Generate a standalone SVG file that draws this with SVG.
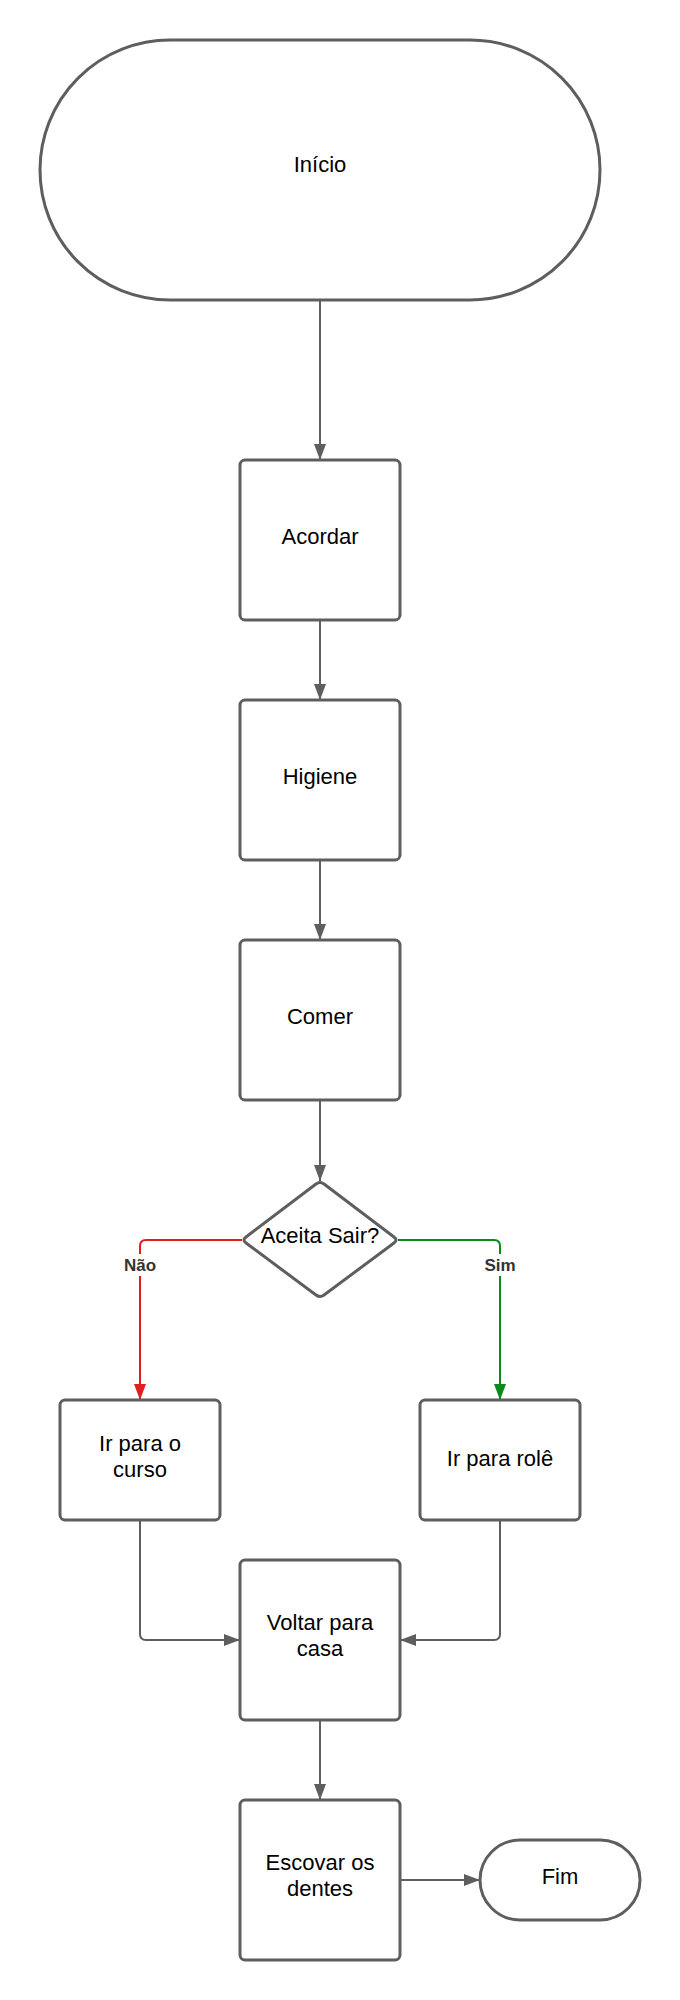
<svg xmlns="http://www.w3.org/2000/svg" width="680" height="2000" viewBox="0 0 680 2000">
<style>
.n{fill:#ffffff;stroke:#5e5e5e;stroke-width:3;stroke-linejoin:round}
.t{font-family:"Liberation Sans",Arial,sans-serif;font-size:22px;fill:#000000;text-anchor:middle}
.c{fill:none;stroke:#5e5e5e;stroke-width:2}
.lb{font-family:"Liberation Sans",Arial,sans-serif;font-size:17px;font-weight:bold;fill:#333333;text-anchor:middle}
</style>
<defs>
<marker id="ag" viewBox="0 0 16 12" refX="16" refY="6" markerWidth="16" markerHeight="12" markerUnits="userSpaceOnUse" orient="auto"><path d="M0,0 L16,6 L0,12 z" fill="#5e5e5e"/></marker>
<marker id="ar" viewBox="0 0 16 12" refX="16" refY="6" markerWidth="16" markerHeight="12" markerUnits="userSpaceOnUse" orient="auto"><path d="M0,0 L16,6 L0,12 z" fill="#e01e1e"/></marker>
<marker id="av" viewBox="0 0 16 12" refX="16" refY="6" markerWidth="16" markerHeight="12" markerUnits="userSpaceOnUse" orient="auto"><path d="M0,0 L16,6 L0,12 z" fill="#0a8a18"/></marker>
</defs>
<rect width="680" height="2000" fill="#ffffff"/>
<g id="connectors">
<path class="c" d="M320,300 V460" marker-end="url(#ag)"/>
<path class="c" d="M320,620 V700" marker-end="url(#ag)"/>
<path class="c" d="M320,860 V940" marker-end="url(#ag)"/>
<path class="c" d="M320,1100 V1181" marker-end="url(#ag)"/>
<path class="c" d="M242,1240 H146 Q140,1240 140,1246 V1400" style="stroke:#e01e1e" marker-end="url(#ar)"/>
<path class="c" d="M398,1240 H494 Q500,1240 500,1246 V1400" style="stroke:#0a8a18" marker-end="url(#av)"/>
<rect x="120" y="1254" width="40" height="22" fill="#ffffff"/>
<text class="lb" x="140" y="1271">Não</text>
<rect x="480" y="1254" width="40" height="22" fill="#ffffff"/>
<text class="lb" x="500" y="1271">Sim</text>
<path class="c" d="M140,1520 V1634 Q140,1640 146,1640 H240" marker-end="url(#ag)"/>
<path class="c" d="M500,1520 V1634 Q500,1640 494,1640 H400" marker-end="url(#ag)"/>
<path class="c" d="M320,1720 V1800" marker-end="url(#ag)"/>
<path class="c" d="M400,1880 H480" marker-end="url(#ag)"/>
</g>
<g id="inicio">
<rect class="n" x="40" y="40" width="560" height="260" rx="130" ry="130"/>
<text class="t" x="320" y="172">Início</text>
</g>
<g id="acordar">
<rect class="n" x="240" y="460" width="160" height="160" rx="5"/>
<text class="t" x="320" y="544">Acordar</text>
</g>
<g id="higiene">
<rect class="n" x="240" y="700" width="160" height="160" rx="5"/>
<text class="t" x="320" y="784">Higiene</text>
</g>
<g id="comer">
<rect class="n" x="240" y="940" width="160" height="160" rx="5"/>
<text class="t" x="320" y="1024">Comer</text>
</g>
<g id="aceita">
<path class="n" d="M324,1184 L394,1237 Q398,1240 394,1243 L324,1295 Q320,1298 316,1295 L246,1243 Q242,1240 246,1237 L316,1184 Q320,1181 324,1184 Z"/>
<text class="t" x="320" y="1243">Aceita Sair?</text>
</g>
<g id="curso">
<rect class="n" x="60" y="1400" width="160" height="120" rx="5"/>
<text class="t" x="140" y="1451">Ir para o</text>
<text class="t" x="140" y="1477">curso</text>
</g>
<g id="role">
<rect class="n" x="420" y="1400" width="160" height="120" rx="5"/>
<text class="t" x="500" y="1466">Ir para rolê</text>
</g>
<g id="voltar">
<rect class="n" x="240" y="1560" width="160" height="160" rx="5"/>
<text class="t" x="320" y="1630">Voltar para</text>
<text class="t" x="320" y="1656">casa</text>
</g>
<g id="escovar">
<rect class="n" x="240" y="1800" width="160" height="160" rx="5"/>
<text class="t" x="320" y="1870">Escovar os</text>
<text class="t" x="320" y="1896">dentes</text>
</g>
<g id="fim">
<rect class="n" x="480" y="1840" width="160" height="80" rx="40" ry="40"/>
<text class="t" x="560" y="1884">Fim</text>
</g>
</svg>
